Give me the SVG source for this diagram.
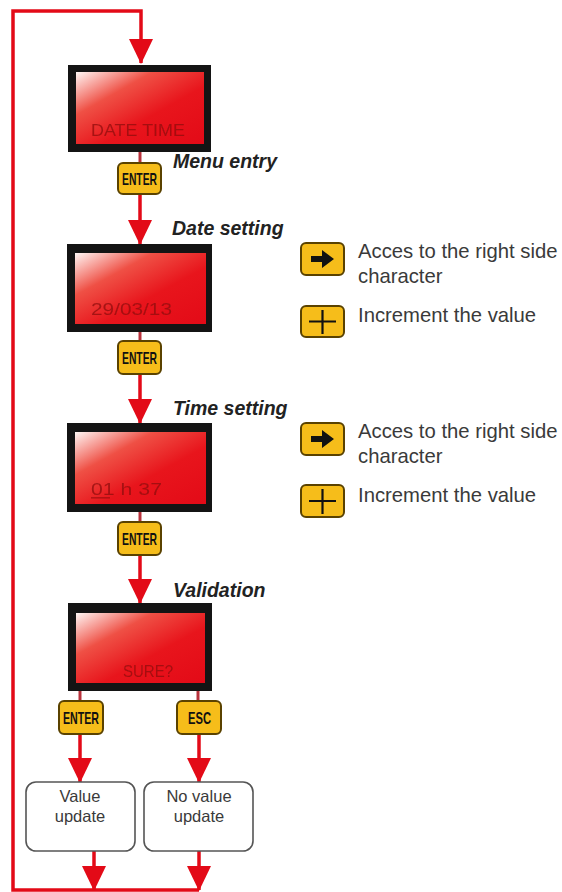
<svg xmlns="http://www.w3.org/2000/svg" width="562" height="892" viewBox="0 0 562 892">
  <defs>
    <linearGradient id="lcdGrad" x1="0" y1="0" x2="1" y2="1">
      <stop offset="0" stop-color="#fff6f4"/>
      <stop offset="0.3" stop-color="#ef5045"/>
      <stop offset="0.6" stop-color="#e8151c"/>
      <stop offset="1" stop-color="#e30a17"/>
    </linearGradient>
    <filter id="lcdBlur" x="-10%" y="-30%" width="120%" height="160%">
      <feGaussianBlur stdDeviation="0.7"/>
    </filter>
    <marker id="head" viewBox="0 0 25 24" refX="24" refY="12" markerWidth="25" markerHeight="24" markerUnits="userSpaceOnUse" orient="auto">
      <path d="M0,0 L25,12 L0,24 Z" fill="#e30a17"/>
    </marker>
    <style>
      .flow { fill: none; stroke: #e30a17; stroke-width: 3.5; }
      .link { fill: none; stroke: #b8323c; stroke-width: 3; }
      .lcdFrame { fill: #141414; }
      .lcdFace { fill: url(#lcdGrad); }
      .lcdText { font-family: "Liberation Sans", Arial, sans-serif; font-size: 17px; fill: #8f0c0c; opacity: 0.75; filter: url(#lcdBlur); }
      .key { fill: #f6bd1a; stroke: #5a4200; stroke-width: 2; }
      .keyText { font-family: "Liberation Sans", Arial, sans-serif; font-weight: bold; font-size: 17px; fill: #111; }
      .step { font-family: "Liberation Sans", Arial, sans-serif; font-weight: bold; font-style: italic; font-size: 19.5px; fill: #222; }
      .help { font-family: "Liberation Sans", Arial, sans-serif; font-size: 20.3px; fill: #3a3a3a; }
      .result { fill: #fff; stroke: #555; stroke-width: 1.6; }
      .resultText { font-family: "Liberation Sans", Arial, sans-serif; font-size: 16.5px; fill: #3a3a3a; text-anchor: middle; }
    </style>
  </defs>

  <rect width="562" height="892" fill="#fff"/>

  <!-- connectors -->
  <g id="connectors">
    <!-- return loop back to the main menu -->
    <path class="flow" d="M199,890 H13 V11 H141 V63" marker-end="url(#head)"/>
    <!-- screen to key stubs -->
    <path class="link" d="M140,152 V164"/>
    <path class="link" d="M140,332 V341"/>
    <path class="link" d="M140,512 V522"/>
    <path class="link" d="M80,691 V701"/>
    <path class="link" d="M198,691 V701"/>
    <!-- key to next screen -->
    <path class="flow" d="M140,194 V244" marker-end="url(#head)"/>
    <path class="flow" d="M140,374 V423" marker-end="url(#head)"/>
    <path class="flow" d="M140,555 V603" marker-end="url(#head)"/>
    <path class="flow" d="M80,734 V782" marker-end="url(#head)"/>
    <path class="flow" d="M199,734 V782" marker-end="url(#head)"/>
    <!-- results back into the loop -->
    <path class="flow" d="M94,851 V890" marker-end="url(#head)"/>
    <path class="flow" d="M199,851 V890" marker-end="url(#head)"/>
  </g>

  <!-- screens -->
  <g id="lcd-menu">
    <rect class="lcdFrame" x="68" y="65" width="143" height="87"/>
    <rect class="lcdFace" x="76" y="72" width="128" height="72"/>
    <text class="lcdText" x="91" y="136" textLength="94" lengthAdjust="spacingAndGlyphs">DATE TIME</text>
  </g>
  <g id="lcd-date">
    <rect class="lcdFrame" x="67" y="244" width="145" height="88"/>
    <rect class="lcdFace" x="75" y="253" width="131" height="71"/>
    <text class="lcdText" x="91" y="315" textLength="81" lengthAdjust="spacingAndGlyphs">29/03/13</text>
  </g>
  <g id="lcd-time">
    <rect class="lcdFrame" x="67" y="423" width="145" height="89"/>
    <rect class="lcdFace" x="75" y="432" width="131" height="72"/>
    <text class="lcdText" x="91" y="495" textLength="71" lengthAdjust="spacingAndGlyphs">01 h 37</text>
    <rect x="91" y="497" width="19" height="1.6" fill="#8f0c0c" opacity="0.6"/>
  </g>
  <g id="lcd-sure">
    <rect class="lcdFrame" x="68" y="603" width="144" height="88"/>
    <rect class="lcdFace" x="76" y="613" width="129" height="70"/>
    <text class="lcdText" x="123" y="677" textLength="50" lengthAdjust="spacingAndGlyphs">SURE?</text>
  </g>

  <!-- keys -->
  <g id="key-enter-1">
    <rect class="key" x="118" y="163" width="43" height="31" rx="5"/>
    <text class="keyText" x="122" y="185" textLength="35" lengthAdjust="spacingAndGlyphs">ENTER</text>
  </g>
  <g id="key-enter-2">
    <rect class="key" x="118" y="341" width="43" height="33" rx="5"/>
    <text class="keyText" x="122" y="364" textLength="35" lengthAdjust="spacingAndGlyphs">ENTER</text>
  </g>
  <g id="key-enter-3">
    <rect class="key" x="118" y="522" width="43" height="33" rx="5"/>
    <text class="keyText" x="122" y="545" textLength="35" lengthAdjust="spacingAndGlyphs">ENTER</text>
  </g>
  <g id="key-enter-4">
    <rect class="key" x="59" y="701" width="44" height="33" rx="5"/>
    <text class="keyText" x="63" y="724" textLength="36" lengthAdjust="spacingAndGlyphs">ENTER</text>
  </g>
  <g id="key-esc">
    <rect class="key" x="177" y="701" width="44" height="33" rx="5"/>
    <text class="keyText" x="188" y="724" textLength="23" lengthAdjust="spacingAndGlyphs">ESC</text>
  </g>

  <!-- step labels -->
  <g id="label-menu"><text class="step" x="173" y="168">Menu entry</text></g>
  <g id="label-date"><text class="step" x="172" y="235">Date setting</text></g>
  <g id="label-time"><text class="step" x="173" y="415">Time setting</text></g>
  <g id="label-validation"><text class="step" x="173" y="597">Validation</text></g>

  <!-- key help: date setting -->
  <g id="help-date-right">
    <rect class="key" x="301" y="243" width="43" height="32" rx="5"/>
    <path d="M311,256 H322 V250 L334,259 L322,268 V262 H311 Z" fill="#111"/>
    <text class="help" x="358" y="258">Acces to the right side</text>
    <text class="help" x="358" y="283">character</text>
  </g>
  <g id="help-date-plus">
    <rect class="key" x="301" y="306" width="43" height="31" rx="5"/>
    <path d="M322.5,310 V334 M309,321.5 H336" stroke="#111" stroke-width="2.2" fill="none"/>
    <text class="help" x="358" y="322">Increment the value</text>
  </g>

  <!-- key help: time setting -->
  <g id="help-time-right">
    <rect class="key" x="301" y="423" width="43" height="32" rx="5"/>
    <path d="M311,436 H322 V430 L334,439 L322,448 V442 H311 Z" fill="#111"/>
    <text class="help" x="358" y="438">Acces to the right side</text>
    <text class="help" x="358" y="463">character</text>
  </g>
  <g id="help-time-plus">
    <rect class="key" x="301" y="485" width="43" height="32" rx="5"/>
    <path d="M322.5,489 V514 M309,501 H336" stroke="#111" stroke-width="2.2" fill="none"/>
    <text class="help" x="358" y="502">Increment the value</text>
  </g>

  <!-- outcomes -->
  <g id="result-update">
    <rect class="result" x="26" y="782" width="109" height="69" rx="10"/>
    <text class="resultText" x="80" y="802">Value</text>
    <text class="resultText" x="80" y="822">update</text>
  </g>
  <g id="result-no-update">
    <rect class="result" x="144" y="782" width="109" height="69" rx="10"/>
    <text class="resultText" x="199" y="802">No value</text>
    <text class="resultText" x="199" y="822">update</text>
  </g>
</svg>
